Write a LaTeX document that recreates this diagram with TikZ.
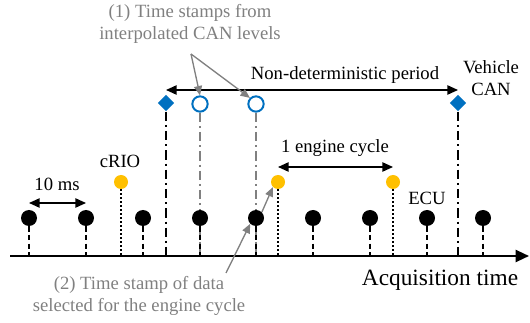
\documentclass[tikz,border=0pt]{standalone}
\usepackage{fontspec}
\setmainfont{Liberation Serif}
\usetikzlibrary{arrows.meta,shapes.geometric}
\definecolor{cblue}{HTML}{0070C0}
\definecolor{cyel}{HTML}{FFC000}
\definecolor{cgray}{HTML}{808080}
\begin{document}
\begin{tikzpicture}[x=0.75pt,y=-0.75pt,
  lbl/.style={font=\fontsize{14}{16.5}\selectfont, inner sep=0pt, align=center},
  glbl/.style={lbl, text=cgray},
  bdot/.style={circle, fill=black, minimum size=12pt, inner sep=0pt},
  ydot/.style={circle, fill=cyel, minimum size=10.5pt, inner sep=0pt},
  bcirc/.style={circle, draw=cblue, line width=1.5pt, fill=white, minimum size=11.5pt, inner sep=0pt},
  bdia/.style={diamond, fill=cblue, minimum size=12.5pt, inner sep=0pt},
  dstem/.style={black, line width=1.1pt, dash pattern=on 4pt off 2.5pt},
  ystem/.style={black, line width=1pt, dotted},
  ddstem/.style={black, line width=1.1pt, dash pattern=on 7pt off 3pt on 1.5pt off 3pt},
  gstem/.style={cgray, line width=0.9pt, dash pattern=on 7pt off 3pt on 1.5pt off 3pt},
  dimarr/.style={{Triangle[length=8pt,width=7pt]}-{Triangle[length=8pt,width=7pt]}, line width=1.1pt},
  garr/.style={cgray, line width=1pt, -{Triangle[length=7pt,width=6pt]}}
]
\useasboundingbox (0,0) rectangle (530,323);
% axis
\coordinate (ax0) at (10,256);
\coordinate (ax1) at (529,256);
% stems base coordinates
\foreach \i/\x in {1/29,2/86,3/143,4/200,5/256,6/313,7/370,8/427,9/483}{
  \coordinate (b\i) at (\x,256);
}
% vertical dash-dot lines
\coordinate (d1b) at (166,256);
\coordinate (d2b) at (458,256);
\coordinate (c1b) at (200,256);
\coordinate (c2b) at (256,256);
\coordinate (y1b) at (121,256);
\coordinate (y2b) at (278,256);
\coordinate (y3b) at (393,256);

\node[bdia] (d1) at (166,103) {};
\node[bdia] (d2) at (458,103) {};
\draw[ddstem] (d1.south) -- (d1b);
\draw[ddstem] (d2.south) -- (d2b);

\node[bcirc] (c1) at (200,104) {};
\node[bcirc] (c2) at (256,104) {};
\draw[gstem] (c1.south) -- (c1b);
\draw[gstem] (c2.south) -- (c2b);

% black dots and stems
\foreach \i/\x in {1/29,2/86,3/143,4/200,5/256,6/313,7/370,8/427,9/483}{
  \node[bdot] (p\i) at (\x,218) {};
  \draw[dstem] (p\i.south) -- (b\i);
}

% yellow dots
\node[ydot] (y1) at (121,182) {};
\node[ydot] (y2) at (278,182) {};
\node[ydot] (y3) at (393,182) {};
\draw[ystem] (y1.south) -- (y1b);
\draw[ystem] (y2.south) -- (y2b);
\draw[ystem] (y3.south) -- (y3b);

% axis
\draw[line width=1.6pt, -{Triangle[length=10pt,width=9pt]}] (ax0) -- (ax1);

% dimension arrows
\coordinate (nd0) at (166,90);
\coordinate (nd1) at (458,90);
\draw[dimarr] (nd0) -- (nd1);
\coordinate (ec0) at (278,167);
\coordinate (ec1) at (393,167);
\draw[dimarr] (ec0) -- (ec1);
\coordinate (tm0) at (29,203);
\coordinate (tm1) at (86,203);
\draw[dimarr] (tm0) -- (tm1);

% labels
\node[lbl] (ndl) at (345,75) {Non-deterministic period};
\node[lbl] (veh) at (491,78) {Vehicle\\CAN};
\node[lbl] (ecl) at (335,148) {1 engine cycle};
\node[lbl] (crio) at (120,161) {cRIO};
\node[lbl] (ecu) at (427,198) {ECU};
\node[lbl] (tms) at (57,184) {10 ms};
\node[font=\fontsize{17.5}{20}\selectfont, inner sep=0pt] (acq) at (440,280) {Acquisition time};

% gray annotations
\node[glbl] (n1) at (190,24) {(1) Time stamps from\\interpolated CAN levels};
\coordinate (apex) at (191,54);
\draw[garr] (apex) -- (c1.north);
\draw[garr] (apex) -- (c2.north west);

\node[glbl] (n2) at (139,296) {(2) Time stamp of data\\selected for the engine cycle};
\coordinate (n2tip) at (226,273);
\draw[garr] (n2tip) -- (p5.south west);
\draw[garr] (p5.north east) -- (y2.south west);
\end{tikzpicture}
\end{document}
